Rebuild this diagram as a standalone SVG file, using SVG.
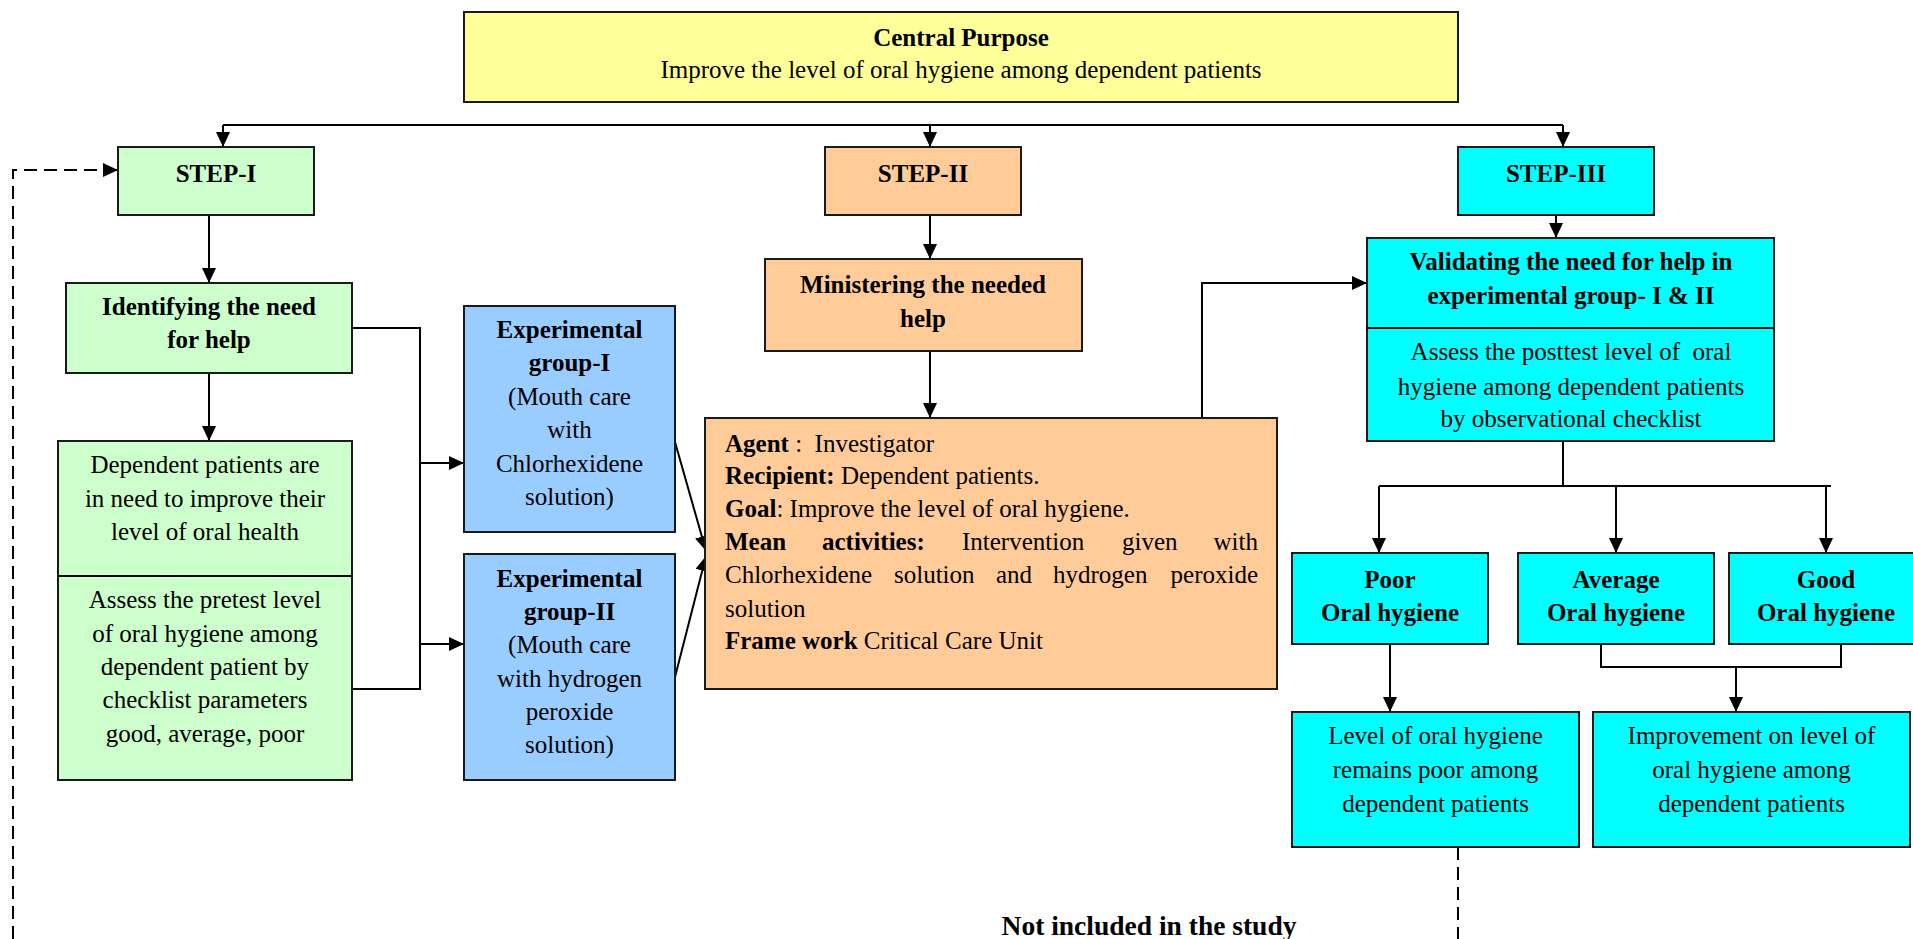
<svg xmlns="http://www.w3.org/2000/svg" width="1913" height="939" viewBox="0 0 1913 939">
<style>
text{font-family:"Liberation Serif","Times New Roman",serif;font-size:25px;fill:#000}
.c{text-anchor:middle}
.b{font-weight:bold}
.box{stroke:#1a1a1a;stroke-width:2}
.ln{fill:none;stroke:#000;stroke-width:2}
.ar{marker-end:url(#ah)}
.dash{fill:none;stroke:#000;stroke-width:2;stroke-dasharray:13 7}
</style>
<defs>
<marker id="ah" markerUnits="userSpaceOnUse" markerWidth="16" markerHeight="14" refX="15" refY="7" orient="auto">
<path d="M0,0 L15,7 L0,14 z" fill="#000"/>
</marker>
</defs>
<rect width="1913" height="939" fill="#fff"/>

<g id="connectors">
<path class="ln" d="M223,125 H1563"/>
<path class="ln ar" d="M223,125 V147"/>
<path class="ln ar" d="M930,125 V147"/>
<path class="ln ar" d="M1563,125 V147"/>
<path class="ln ar" d="M209,215 V283"/>
<path class="ln ar" d="M209,373 V441"/>
<path class="ln" d="M352,328 H420 V689 H352"/>
<path class="ln ar" d="M420,463 H464"/>
<path class="ln ar" d="M420,644 H464"/>
<path class="ln ar" d="M675,442 L706,551"/>
<path class="ln ar" d="M675,677 L706,556"/>
<path class="ln ar" d="M930,215 V259"/>
<path class="ln ar" d="M930,351 V418"/>
<path class="ln ar" d="M1202,418 V283 H1367"/>
<path class="ln ar" d="M1556,215 V238"/>
<path class="ln" d="M1563,441 V486 M1379,486 H1831"/>
<path class="ln ar" d="M1379,486 V553"/>
<path class="ln ar" d="M1616,486 V553"/>
<path class="ln ar" d="M1826,486 V553"/>
<path class="ln ar" d="M1390,644 V712"/>
<path class="ln" d="M1601,644 V667 H1841 V644"/>
<path class="ln ar" d="M1736,667 V712"/>
<path class="dash" d="M1458,847 V939"/>
<path class="dash ar" d="M13,939 V170 H118"/>
</g>

<g id="central">
<rect class="box" x="464" y="12" width="994" height="90" fill="#FFFF99"/>
<text class="c b" x="961" y="46">Central Purpose</text>
<text class="c" x="961" y="78">Improve the level of oral hygiene among dependent patients</text>
</g>

<g id="step1">
<rect class="box" x="118" y="147" width="196" height="68" fill="#CCFFCC"/>
<text class="c b" x="216" y="182">STEP-I</text>
</g>

<g id="step2">
<rect class="box" x="825" y="147" width="196" height="68" fill="#FFCC99"/>
<text class="c b" x="923" y="182">STEP-II</text>
</g>

<g id="step3">
<rect class="box" x="1458" y="147" width="196" height="68" fill="#00FFFF"/>
<text class="c b" x="1556" y="182">STEP-III</text>
</g>

<g id="identifying">
<rect class="box" x="66" y="283" width="286" height="90" fill="#CCFFCC"/>
<text class="c b" x="209" y="315">Identifying the need</text>
<text class="c b" x="209" y="348">for help</text>
</g>

<g id="dependent">
<rect class="box" x="58" y="441" width="294" height="339" fill="#CCFFCC"/>
<path class="ln" d="M58,576 H352"/>
<text class="c" x="205" y="473">Dependent patients are</text>
<text class="c" x="205" y="507">in need to improve their</text>
<text class="c" x="205" y="540">level of oral health</text>
<text class="c" x="205" y="608">Assess the pretest level</text>
<text class="c" x="205" y="642">of oral hygiene among</text>
<text class="c" x="205" y="675">dependent patient by</text>
<text class="c" x="205" y="708">checklist parameters</text>
<text class="c" x="205" y="742">good, average, poor</text>
</g>

<g id="expgroup1">
<rect class="box" x="464" y="306" width="211" height="226" fill="#99CCFF"/>
<text class="c b" x="569.5" y="338">Experimental</text>
<text class="c b" x="569.5" y="371">group-I</text>
<text class="c" x="569.5" y="405">(Mouth care</text>
<text class="c" x="569.5" y="438">with</text>
<text class="c" x="569.5" y="472">Chlorhexidene</text>
<text class="c" x="569.5" y="505">solution)</text>
</g>

<g id="expgroup2">
<rect class="box" x="464" y="554" width="211" height="226" fill="#99CCFF"/>
<text class="c b" x="569.5" y="587">Experimental</text>
<text class="c b" x="569.5" y="620">group-II</text>
<text class="c" x="569.5" y="653">(Mouth care</text>
<text class="c" x="569.5" y="687">with hydrogen</text>
<text class="c" x="569.5" y="720">peroxide</text>
<text class="c" x="569.5" y="753">solution)</text>
</g>

<g id="ministering">
<rect class="box" x="765" y="259" width="317" height="92" fill="#FFCC99"/>
<text class="c b" x="923" y="293">Ministering the needed</text>
<text class="c b" x="923" y="327">help</text>
</g>

<g id="agent">
<rect class="box" x="705" y="418" width="572" height="271" fill="#FFCC99"/>
<text x="725" y="452"><tspan class="b">Agent</tspan> :&#160; Investigator</text>
<text x="725" y="484"><tspan class="b">Recipient:</tspan> Dependent patients.</text>
<text x="725" y="517"><tspan class="b">Goal</tspan>: Improve the level of oral hygiene.</text>
<text class="b" x="725" y="550">Mean</text>
<text class="b" x="822" y="550">activities:</text>
<text x="962" y="550">Intervention</text>
<text x="1122" y="550">given</text>
<text x="1258" y="550" text-anchor="end">with</text>
<text x="725" y="583">Chlorhexidene</text>
<text x="894" y="583">solution</text>
<text x="996" y="583">and</text>
<text x="1053" y="583">hydrogen</text>
<text x="1258" y="583" text-anchor="end">peroxide</text>
<text x="725" y="617">solution</text>
<text x="725" y="649"><tspan class="b">Frame work</tspan> Critical Care Unit</text>
</g>

<g id="validating">
<rect class="box" x="1367" y="238" width="407" height="203" fill="#00FFFF"/>
<path class="ln" d="M1367,328 H1774"/>
<text class="c b" x="1571" y="270">Validating the need for help in</text>
<text class="c b" x="1571" y="304">experimental group- I &amp; II</text>
<text class="c" x="1571" y="360">Assess the posttest level of&#160; oral</text>
<text class="c" x="1571" y="395">hygiene among dependent patients</text>
<text class="c" x="1571" y="427">by observational checklist</text>
</g>

<g id="poor">
<rect class="box" x="1292" y="553" width="196" height="91" fill="#00FFFF"/>
<text class="c b" x="1390" y="588">Poor</text>
<text class="c b" x="1390" y="621">Oral hygiene</text>
</g>

<g id="average">
<rect class="box" x="1518" y="553" width="196" height="91" fill="#00FFFF"/>
<text class="c b" x="1616" y="588">Average</text>
<text class="c b" x="1616" y="621">Oral hygiene</text>
</g>

<g id="good">
<rect class="box" x="1729" y="553" width="196" height="91" fill="#00FFFF"/>
<text class="c b" x="1826" y="588">Good</text>
<text class="c b" x="1826" y="621">Oral hygiene</text>
</g>

<g id="remains-poor">
<rect class="box" x="1292" y="712" width="287" height="135" fill="#00FFFF"/>
<text class="c" x="1435.5" y="744">Level of oral hygiene</text>
<text class="c" x="1435.5" y="778">remains poor among</text>
<text class="c" x="1435.5" y="812">dependent patients</text>
</g>

<g id="improvement">
<rect class="box" x="1593" y="712" width="317" height="135" fill="#00FFFF"/>
<text class="c" x="1751.5" y="744">Improvement on level of</text>
<text class="c" x="1751.5" y="778">oral hygiene among</text>
<text class="c" x="1751.5" y="812">dependent patients</text>
</g>

<g id="not-included">
<text class="c b" x="1149" y="935" style="font-size:27.5px">Not included in the study</text>
</g>
</svg>
